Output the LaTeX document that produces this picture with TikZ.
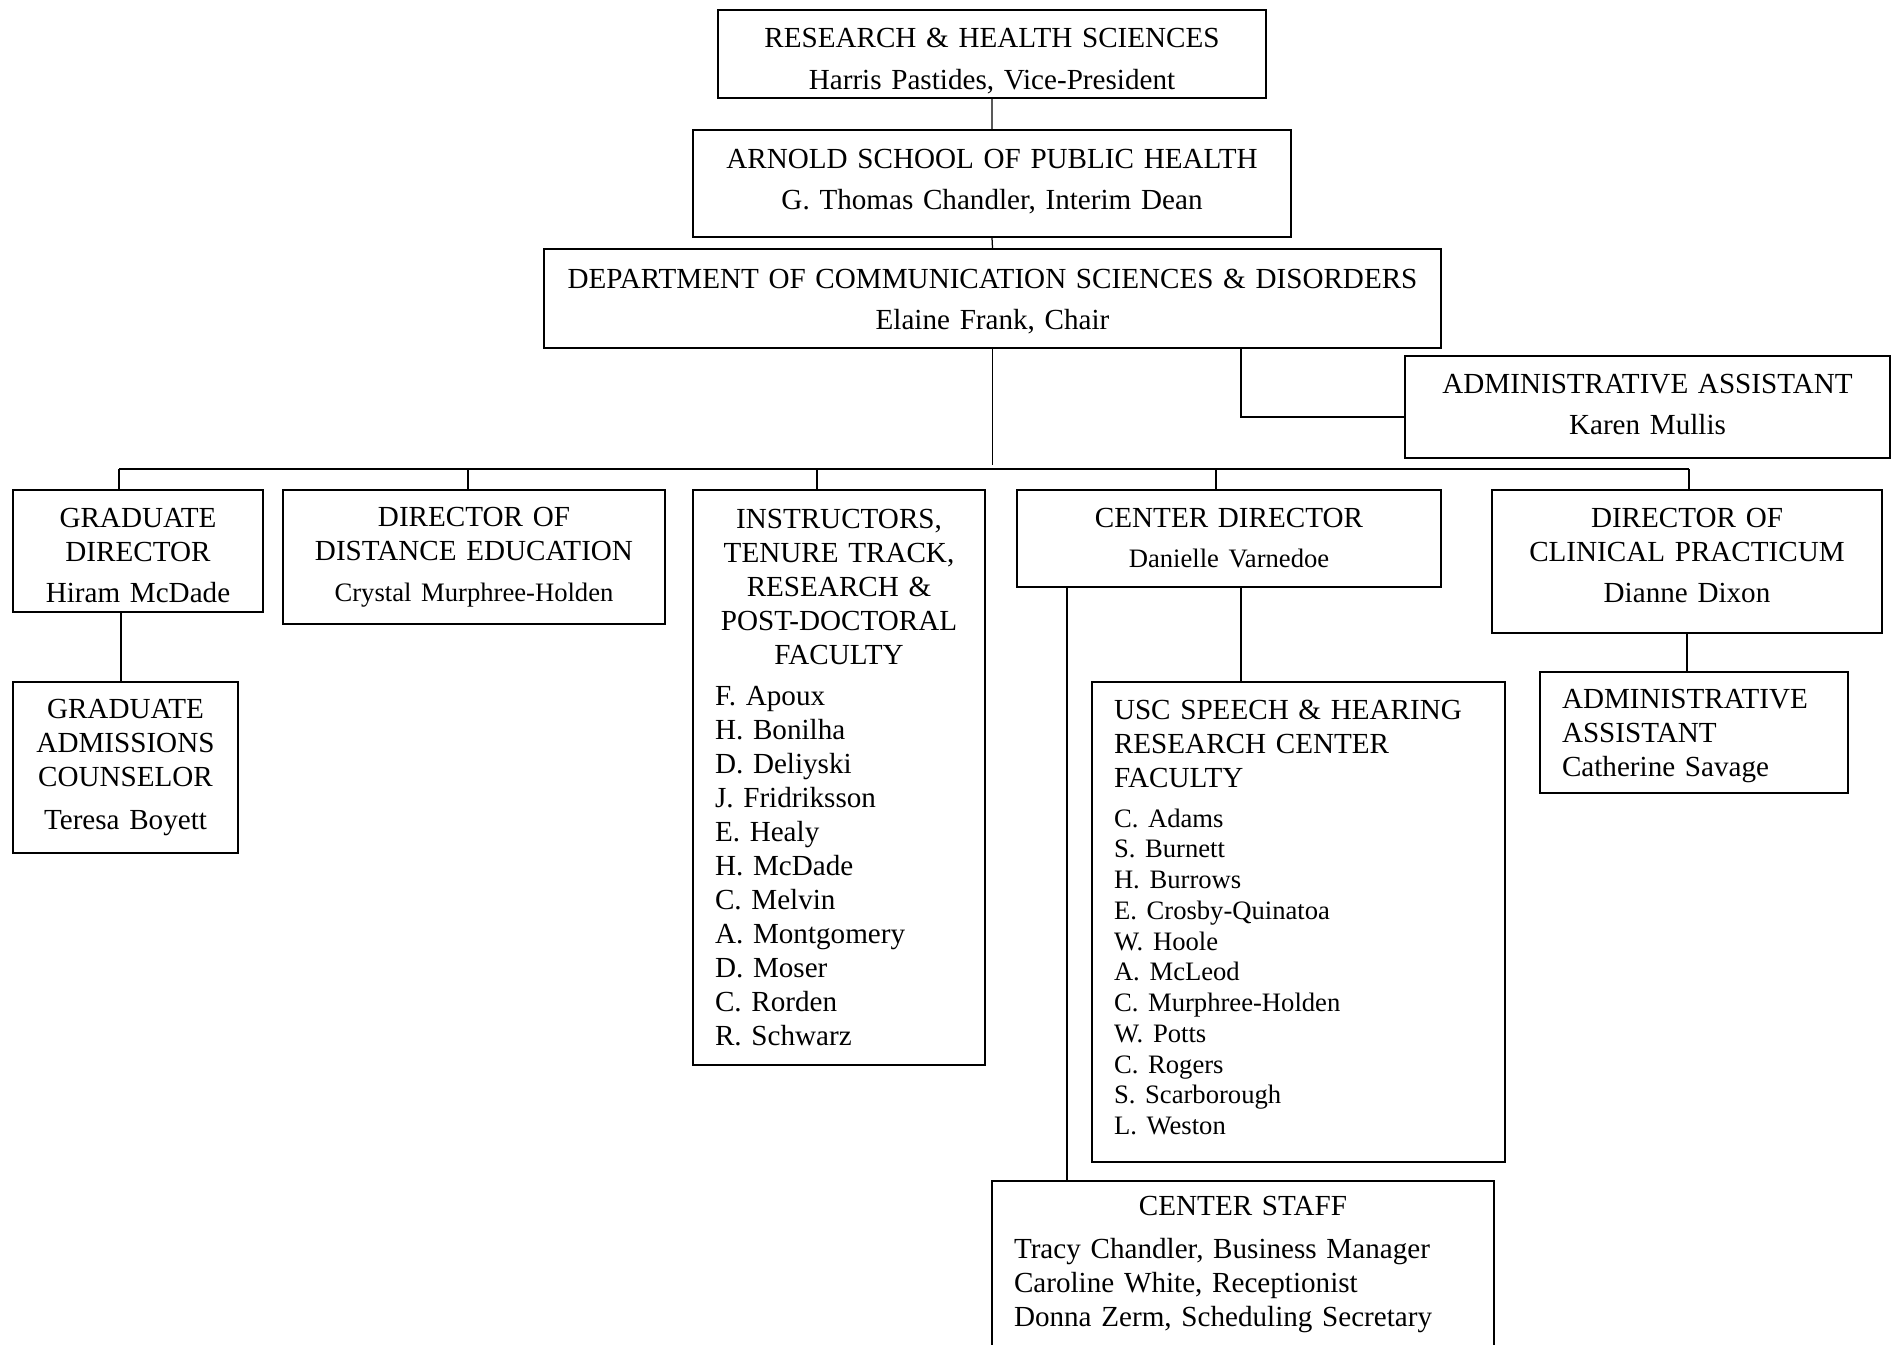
\documentclass[tikz,border=0pt]{standalone}
\usepackage{fontspec}
\setmainfont{Liberation Serif}
\usepackage{tikz}

\newcommand{\namefnt}{\fontsize{10.65}{12.3}\selectfont}
\newcommand{\padtop}[1]{\rule{0pt}{#1}}
\newcommand{\padbot}[1]{\rule[-#1]{0pt}{0pt}}

\begin{document}
\begin{tikzpicture}[x=0.4pt,y=-0.4pt,
		unit/.style={draw,line width=0.8pt,inner sep=0pt,anchor=north west,align=center,
			font=\fontsize{11.65}{13.6}\selectfont},
		listunit/.style={unit,align=left,inner xsep=8.8pt},
		link/.style={line width=0.5pt}]
	\useasboundingbox (0,0) rectangle (1900,1345);
	\node[unit,minimum width=219.2pt,minimum height=35.2pt,text width=219.2pt] (rhs) at (717,9)
		{\padtop{13.3pt}RESEARCH \& HEALTH SCIENCES\\[2.9pt] Harris Pastides, Vice-President};
	\node[unit,minimum width=239.2pt,minimum height=42.8pt,text width=239.2pt] (arnold) at (692,129)
		{ARNOLD SCHOOL OF PUBLIC HEALTH\\[2.9pt] G. Thomas Chandler, Interim Dean\padbot{3.6pt}};
	\node[unit,minimum width=358.8pt,minimum height=39.6pt,text width=358.8pt] (dept) at (543,248)
		{\padtop{9.9pt}DEPARTMENT OF COMMUNICATION SCIENCES \& DISORDERS\\[2.9pt] Elaine Frank, Chair};
	\node[unit,minimum width=194pt,minimum height=40.8pt,text width=194pt] (admin) at (1404,355)
		{ADMINISTRATIVE ASSISTANT\\[2.9pt] Karen Mullis\padbot{2pt}};
	\node[unit,minimum width=100pt,minimum height=48.8pt,text width=100pt] (grad) at (12,489)
		{\padtop{11.5pt}GRADUATE\\ DIRECTOR\\[2.9pt] Hiram McDade};
	\node[unit,minimum width=152.8pt,minimum height=53.6pt,text width=152.8pt] (dist) at (282,489)
		{DIRECTOR OF\\ DISTANCE EDUCATION\\[2.9pt] {\namefnt Crystal Murphree-Holden}};
	\node[listunit,minimum width=116.8pt,minimum height=230pt,text width=99.2pt] (instr) at (692,489)
		{{\centering INSTRUCTORS,\\ TENURE TRACK,\\ RESEARCH \&\\ POST-DOCTORAL\\ FACULTY\par}\vspace{2.9pt}
		F. Apoux\\ H. Bonilha\\ D. Deliyski\\ J. Fridriksson\\ E. Healy\\ H. McDade\\
		C. Melvin\\ A. Montgomery\\ D. Moser\\ C. Rorden\\ R. Schwarz};
	\node[unit,minimum width=169.6pt,minimum height=38.8pt,text width=169.6pt] (cdir) at (1016,489)
		{CENTER DIRECTOR\\[2.4pt] {\namefnt Danielle Varnedoe}};
	\node[unit,minimum width=156pt,minimum height=57.2pt,text width=156pt] (clin) at (1491,489)
		{DIRECTOR OF\\ CLINICAL PRACTICUM\\[2.9pt] Dianne Dixon\padbot{4.8pt}};
	\node[unit,minimum width=90pt,minimum height=68.4pt,text width=90pt] (gradadm) at (12,681)
		{GRADUATE\\ ADMISSIONS\\ COUNSELOR\\[3.4pt] Teresa Boyett};
	\node[listunit,minimum width=165.2pt,minimum height=192pt,text width=147.6pt] (usc) at (1091,681)
		{USC SPEECH \& HEARING\\ RESEARCH CENTER\\ FACULTY\par\vspace{3.7pt}
		{\namefnt C. Adams\\ S. Burnett\\ H. Burrows\\ E. Crosby-Quinatoa\\ W. Hoole\\ A. McLeod\\
		C. Murphree-Holden\\ W. Potts\\ C. Rogers\\ S. Scarborough\\ L. Weston\padbot{3.8pt}\par}};
	\node[listunit,minimum width=123.2pt,minimum height=48.4pt,text width=105.6pt] (asst) at (1539,671)
		{\padtop{10.6pt}ADMINISTRATIVE\\ ASSISTANT\\ Catherine Savage};
	\node[listunit,minimum width=200.8pt,minimum height=66.8pt,text width=183.2pt] (staff) at (991,1180)
		{{\centering CENTER STAFF\par}\vspace{3.4pt}
		Tracy Chandler, Business Manager\\ Caroline White, Receptionist\\ Donna Zerm, Scheduling Secretary};

	\coordinate (dbot) at (992,465);
	\coordinate (b1) at (119,469);
	\coordinate (b2) at (468,469);
	\coordinate (b3) at (817,469);
	\coordinate (b4) at (1216,469);
	\coordinate (b5) at (1689,469);
	\coordinate (a1) at (1241,417);
	\coordinate (g1) at (121,611);
	\coordinate (u1) at (1241,586);
	\coordinate (s1) at (1067,586);

	\draw[link] (rhs.south) -- (arnold.north);
	\draw[link] (arnold.south) -- (dept.north);
	\draw[link] (dept.south) -- (dept.south |- dbot);
	\draw[link] (a1 |- dept.south) -- (a1) -- (admin.west |- a1);
	\draw[link] (b1) -- (b5);
	\foreach \b/\n in {b1/grad,b2/dist,b3/instr,b4/cdir,b5/clin}
		\draw[link] (\b) -- (\b |- \n.north);
	\draw[link] (g1 |- grad.south) -- (g1 |- gradadm.north);
	\draw[link] (u1 |- cdir.south) -- (u1 |- usc.north);
	\draw[link] (s1 |- cdir.south) -- (s1 |- staff.north);
	\draw[link] (clin.south) -- (clin.south |- asst.north);
\end{tikzpicture}
\end{document}
